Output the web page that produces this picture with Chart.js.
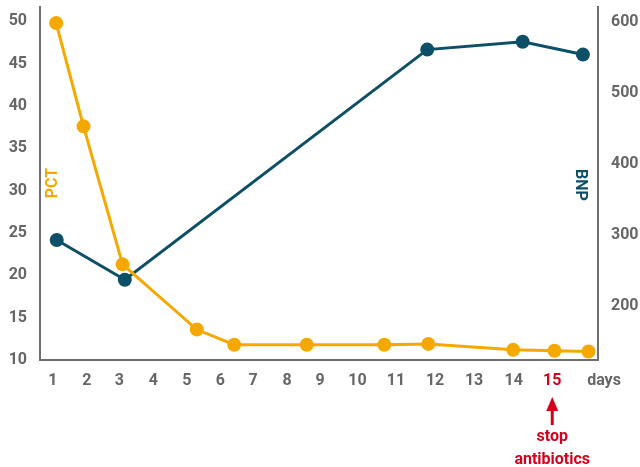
<!DOCTYPE html>
<html>
<head>
<meta charset="utf-8">
<script src="https://cdn.jsdelivr.net/npm/chart.js@4"></script>
<style>
  body { margin: 0; background: #fff; }
  #wrap { width: 640px; height: 467px; position: relative; }
</style>
</head>
<body>
<div id="wrap"><canvas id="chart"></canvas></div>
<script>
// timeline positions (0 = left axis, 100 = right axis) and their day labels
let dayTicks = [2.3, 8.4, 14.2, 20.3, 26.3, 32.3, 38.2, 44.3, 50.2, 56.9, 63.8, 70.8, 77.8, 84.9, 91.8]
let dayLabels = ['1', '2', '3', '4', '5', '6', '7', '8', '9', '10', '11', '12', '13', '14', '15']
let stopDay = '15'

let pctX = [2.9, 7.8, 14.8, 28.1, 34.8, 47.8, 61.7, 69.6, 84.8, 92.2, 98.3]
let pctY = [49.8, 37.6, 21.3, 13.6, 11.8, 11.8, 11.8, 11.9, 11.2, 11.1, 11.0]

let bnpX = [3.0, 15.2, 69.4, 86.5, 97.3]
let bnpY = [293, 237, 561, 572, 554]

let pctTicks = [10, 15, 20, 25, 30, 35, 40, 45, 50]
let bnpTicks = [200, 300, 400, 500, 600]

const ORANGE = '#F5A900'
const TEAL = '#0D4F66'
const GREY = '#666666'
const RED = '#D6001C'

Chart.defaults.font.family = 'Roboto'
Chart.defaults.font.size = 16
Chart.defaults.font.weight = 'bold'
Chart.defaults.color = GREY

function pairs(xs, ys) {
  return xs.map((x, i) => ({ x: x, y: ys[i] }))
}

// axis titles inside the plot, the "days" unit and the stop-antibiotics marker
const annotations = {
  id: 'annotations',
  afterDraw(chart) {
    const ctx = chart.ctx
    const area = chart.chartArea
    const x = chart.scales.x
    ctx.save()
    ctx.font = 'bold 16px Roboto'
    ctx.textAlign = 'center'
    ctx.textBaseline = 'middle'

    ctx.fillStyle = ORANGE
    ctx.save()
    ctx.translate(area.left + 13, 183)
    ctx.rotate(-Math.PI / 2)
    ctx.fillText('PCT', 0, 0)
    ctx.restore()

    ctx.fillStyle = TEAL
    ctx.save()
    ctx.translate(area.right - 18, 185)
    ctx.rotate(Math.PI / 2)
    ctx.fillText('BNP', 0, 0)
    ctx.restore()

    ctx.fillStyle = GREY
    ctx.fillText('days', 604, 381)

    const sx = x.getPixelForValue(dayTicks[dayLabels.indexOf(stopDay)])
    ctx.fillStyle = RED
    ctx.strokeStyle = RED
    ctx.lineWidth = 3
    ctx.beginPath()
    ctx.moveTo(sx, 408)
    ctx.lineTo(sx, 425)
    ctx.stroke()
    ctx.beginPath()
    ctx.moveTo(sx, 397)
    ctx.lineTo(sx - 6, 411)
    ctx.lineTo(sx + 6, 411)
    ctx.closePath()
    ctx.fill()
    ctx.fillText('stop', sx, 437)
    ctx.fillText('antibiotics', sx, 460)
    ctx.restore()
  }
}

function fixY(width) {
  return function (scale) {
    scale.width = width
    scale.paddingTop = 0
    scale.paddingBottom = 0
  }
}

let chart = new Chart(document.getElementById('chart'), {
  type: 'line',
  data: {
    datasets: [{
      label: 'PCT',
      data: pairs(pctX, pctY),
      yAxisID: 'y',
      borderColor: ORANGE,
      backgroundColor: ORANGE,
      borderWidth: 3,
      pointRadius: 7,
      pointHoverRadius: 7,
      pointBorderWidth: 0
    }, {
      label: 'BNP',
      data: pairs(bnpX, bnpY),
      yAxisID: 'y1',
      borderColor: TEAL,
      backgroundColor: TEAL,
      borderWidth: 3,
      pointRadius: 7,
      pointHoverRadius: 7,
      pointBorderWidth: 0
    }]
  },
  options: {
    responsive: true,
    maintainAspectRatio: false,
    animation: false,
    layout: { padding: { top: 7, left: 0, right: 0, bottom: 0 } },
    plugins: {
      legend: { display: false },
      tooltip: { enabled: false }
    },
    scales: {
      x: {
        type: 'linear',
        min: 0,
        max: 100,
        grid: { display: false, drawTicks: false },
        border: { display: true, color: '#6e6e6e', width: 2 },
        afterBuildTicks: s => { s.ticks = dayTicks.map(v => ({ value: v })) },
        ticks: {
          padding: 11,
          autoSkip: false,
          maxRotation: 0,
          callback: (v, i) => dayLabels[i],
          color: c => (dayLabels[c.index] === stopDay ? RED : GREY)
        },
        afterFit: s => {
          s.height = 107
          s.paddingLeft = 0
          s.paddingRight = 0
        }
      },
      y: {
        position: 'left',
        min: 10,
        max: 51.7,
        grid: { display: false, drawTicks: false },
        border: { display: true, color: '#6e6e6e', width: 2 },
        afterBuildTicks: s => { s.ticks = pctTicks.map(v => ({ value: v })) },
        ticks: { padding: 13 },
        afterFit: fixY(40)
      },
      y1: {
        position: 'right',
        min: 124,
        max: 621,
        grid: { display: false, drawTicks: false },
        border: { display: true, color: '#6e6e6e', width: 2 },
        afterBuildTicks: s => { s.ticks = bnpTicks.map(v => ({ value: v })) },
        ticks: { padding: 13 },
        afterFit: fixY(42)
      }
    }
  },
  plugins: [annotations]
})
</script>
</body>
</html>
